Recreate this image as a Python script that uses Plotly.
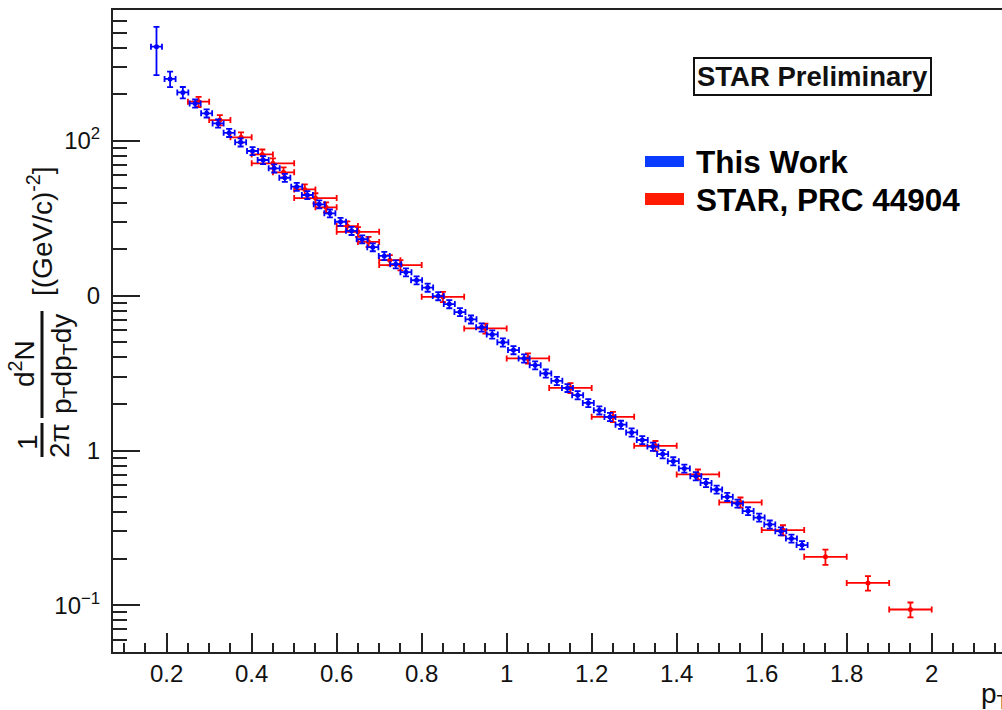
import plotly.graph_objects as go

# ---------------- data ----------------
blue_x = [0.176, 0.208, 0.238, 0.267, 0.294, 0.321, 0.347, 0.374, 0.402, 0.427,
          0.453, 0.478, 0.506, 0.531, 0.559, 0.584, 0.609, 0.635, 0.660, 0.685,
          0.712, 0.739, 0.763, 0.788, 0.814, 0.839, 0.865, 0.890, 0.916, 0.941,
          0.966, 0.991, 1.016, 1.041, 1.067, 1.092, 1.118, 1.143, 1.167, 1.192,
          1.218, 1.243, 1.269, 1.294, 1.319, 1.344, 1.367, 1.392, 1.418, 1.445,
          1.469, 1.494, 1.519, 1.543, 1.568, 1.594, 1.619, 1.645, 1.670, 1.695]
blue_y = [407, 252, 206, 175, 151, 130, 113, 98.1, 86.2, 75.4,
          66.6, 57.9, 50.7, 44.8, 39.0, 34.1, 30.1, 26.3, 23.2, 20.6,
          18.1, 16.0, 14.2, 12.6, 11.3, 9.96, 8.84, 7.85, 7.04, 6.25,
          5.63, 5.00, 4.46, 3.94, 3.56, 3.15, 2.82, 2.54, 2.28, 2.03,
          1.82, 1.65, 1.47, 1.31, 1.17, 1.06, 0.948, 0.854, 0.766, 0.683,
          0.618, 0.560, 0.502, 0.455, 0.406, 0.369, 0.333, 0.301, 0.270, 0.245]
blue_yerr = [140, 29, 17.5, 10.5, 9.1, 7.8, 6.8, 5.9, 5.2, 4.5,
             4.0, 3.5, 3.0, 2.7, 2.3, 2.0, 1.8, 1.6, 1.4, 1.2,
             1.1, 0.96, 0.85, 0.76, 0.68, 0.60, 0.53, 0.47, 0.42, 0.375,
             0.34, 0.30, 0.27, 0.24, 0.21, 0.19, 0.17, 0.15, 0.14, 0.12,
             0.11, 0.099, 0.088, 0.079, 0.070, 0.064, 0.057, 0.051, 0.046, 0.041,
             0.037, 0.034, 0.030, 0.027, 0.024, 0.022, 0.020, 0.018, 0.016, 0.015]
blue_xerr = 0.013

# STAR published: narrow-bin set and wide-bin set
redA_x = [0.275, 0.325, 0.375, 0.425, 0.475, 0.525, 0.575, 0.625, 0.675, 0.725]
redA_y = [179.5, 136.7, 105.7, 82.0, 62.8, 48.7, 37.3, 28.2, 22.3, 17.0]
redA_yerr = [13.5, 10.3, 7.9, 6.2, 4.7, 3.7, 2.8, 2.1, 1.7, 1.3]
redA_xerr = 0.025

redB_x = [0.45, 0.55, 0.65, 0.75, 0.85, 0.95, 1.05, 1.15, 1.25, 1.35,
          1.45, 1.55, 1.65, 1.75, 1.85, 1.95]
redB_y = [71.8, 42.8, 25.9, 15.8, 9.85, 6.15, 3.94, 2.54, 1.651, 1.072,
          0.701, 0.462, 0.306, 0.2056, 0.1395, 0.0939]
redB_yerr = [5.4, 3.2, 1.9, 1.2, 0.74, 0.46, 0.30, 0.19, 0.124, 0.080,
             0.053, 0.035, 0.023, 0.023, 0.015, 0.0103]
redB_xerr = 0.05

x_tickvals = [0.2, 0.4, 0.6, 0.8, 1.0, 1.2, 1.4, 1.6, 1.8, 2.0]
x_ticktext = ["0.2", "0.4", "0.6", "0.8", "1", "1.2", "1.4", "1.6", "1.8", "2"]
y_tickvals = [0.1, 1, 10, 100]
y_ticktext = ["10<sup>\u22121</sup>", "1", "0", "10<sup>2</sup>"]
y_minor = [0.06, 0.07, 0.08, 0.09,
           0.2, 0.3, 0.4, 0.5, 0.6, 0.7, 0.8, 0.9,
           2, 3, 4, 5, 6, 7, 8, 9,
           20, 30, 40, 50, 60, 70, 80, 90,
           200, 300, 400, 500, 600, 700]

BLUE = "#0000ff"
RED = "#ff0000"
FONT = "Liberation Sans, Arial, Helvetica, sans-serif"

# ---------------- layout geometry (pixels) ----------------
W, H = 1002, 710
L, R, T, B = 113, 0, 10, 58
PW, PH = W - L - R, H - T - B


def px(x):
    return (x - L) / PW


def py(y):
    return (H - B - y) / PH


fig = go.Figure()


def add_err(xs, ys, xe, ye, color):
    fig.add_trace(go.Scatter(
        x=xs, y=ys, mode="markers",
        marker=dict(color=color, size=5, symbol="circle"),
        error_x=dict(type="constant", value=xe, color=color, thickness=1.8, width=3),
        error_y=dict(type="data", array=ye, color=color, thickness=1.8, width=3),
        showlegend=False, hoverinfo="x+y"))


add_err(redA_x, redA_y, redA_xerr, redA_yerr, RED)
add_err(redB_x, redB_y, redB_xerr, redB_yerr, RED)
add_err(blue_x, blue_y, blue_xerr, blue_yerr, BLUE)

axis_col = "#222222"
fig.update_xaxes(
    range=[0.0737, 2.1654], showline=True, linecolor=axis_col, linewidth=2, mirror=True,
    ticks="inside", ticklen=19, tickwidth=1.5, tickcolor=axis_col,
    tickvals=x_tickvals, ticktext=x_ticktext, ticklabelstandoff=-1,
    tickfont=dict(family=FONT, size=24, color="#111"),
    minor=dict(ticks="inside", ticklen=9, tickwidth=1.5, tickcolor=axis_col, dtick=0.05, tick0=0),
    showgrid=False, zeroline=False)
fig.update_yaxes(
    type="log", range=[-1.3019, 2.8468], showline=True, linecolor=axis_col, linewidth=2, mirror=False,
    ticks="inside", ticklen=27, tickwidth=1.5, tickcolor=axis_col,
    tickvals=y_tickvals, ticktext=y_ticktext, ticklabelstandoff=6,
    tickfont=dict(family=FONT, size=24, color="#111"),
    minor=dict(ticks="inside", ticklen=14, tickwidth=1.5, tickcolor=axis_col, tickvals=y_minor),
    showgrid=False, zeroline=False)

ann = []
shapes = []
# y-axis title (ROOT-style fractions), rotated
tf = dict(family=FONT, size=28, color="#111")
ann.append(dict(text="1", x=px(27), y=py(442), textangle=-90, font=tf))
ann.append(dict(text="2\u03c0", x=px(59), y=py(441), textangle=-90, font=tf))
ann.append(dict(text="d<sup>2</sup>N", x=px(22), y=py(364), textangle=-90, font=tf))
ann.append(dict(text="p<sub>T</sub>dp<sub>T</sub>dy", x=px(64), y=py(364), textangle=-90, font=tf))
ann.append(dict(text="[(GeV/c)<sup>-2</sup>]", x=px(40), y=py(232), textangle=-90, font=tf))
shapes.append(dict(type="line", x0=px(42), x1=px(42), y0=py(423), y1=py(457),
                   line=dict(color="#111", width=3)))
shapes.append(dict(type="line", x0=px(42), x1=px(42), y0=py(311), y1=py(418),
                   line=dict(color="#111", width=3)))

# x-axis title
ann.append(dict(text="p<sub>T</sub>", x=px(979), y=py(695), xanchor="left",
                font=dict(family=FONT, size=28, color="#111")))

# STAR Preliminary box
ann.append(dict(text="<b>STAR Preliminary</b>", x=px(812), y=py(77),
                font=dict(family=FONT, size=27.5, color="#111"),
                bordercolor="#111", borderwidth=2, borderpad=2, bgcolor="white"))

# legend
lf = dict(family=FONT, size=31.5, color="#000")
shapes.append(dict(type="rect", x0=px(645), x1=px(684), y0=py(156), y1=py(167),
                   fillcolor="#0a3cff", line=dict(width=0)))
shapes.append(dict(type="rect", x0=px(645), x1=px(684), y0=py(193), y1=py(205),
                   fillcolor="#ff1a00", line=dict(width=0)))
ann.append(dict(text="<b>This Work</b>", x=px(694), y=py(162), xanchor="left", font=lf))
ann.append(dict(text="<b>STAR, PRC 44904</b>", x=px(694), y=py(200), xanchor="left", font=lf))

for a in ann:
    a.setdefault("xref", "paper")
    a.setdefault("yref", "paper")
    a.setdefault("showarrow", False)
    a.setdefault("xanchor", "center")
    a.setdefault("yanchor", "middle")
for s in shapes:
    s["xref"] = "paper"
    s["yref"] = "paper"

fig.update_layout(
    width=W, height=H, margin=dict(l=L, r=R, t=T, b=B),
    paper_bgcolor="white", plot_bgcolor="white",
    annotations=ann, shapes=shapes, showlegend=False)

fig.write_html("out.html")
